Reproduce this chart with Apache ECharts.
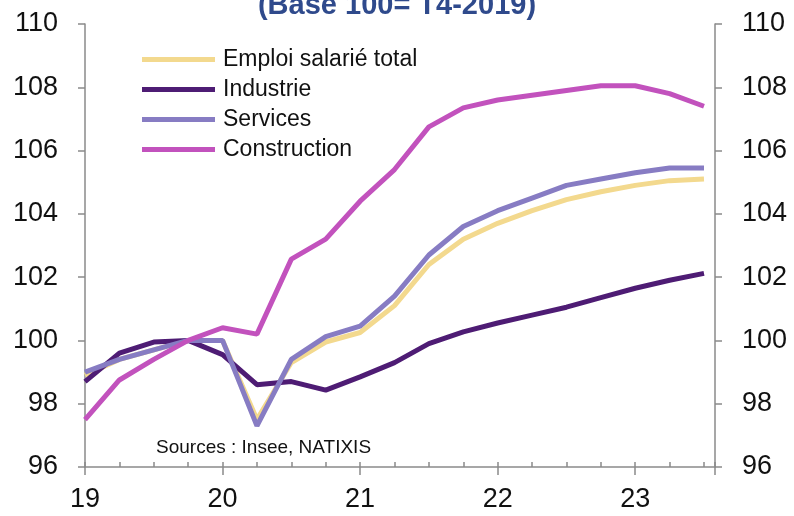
<!DOCTYPE html>
<html>
<head>
<meta charset="utf-8">
<script src="https://cdn.jsdelivr.net/npm/echarts@6/dist/echarts.min.js"></script>
<style>html,body{margin:0;padding:0;background:#fff}#c{width:794px;height:516px}</style>
</head>
<body>
<div id="c"></div>
<script>
// Quarterly dates (year fraction, 19 = 2019 Q1)
var quarters = [19, 19.25, 19.5, 19.75, 20, 20.25, 20.5, 20.75, 21, 21.25, 21.5, 21.75, 22, 22.25, 22.5, 22.75, 23, 23.25, 23.5];
var seriesNames = ['Emploi salarié total', 'Industrie', 'Services', 'Construction'];
var emploiTotal = [98.9, 99.4, 99.7, 100.0, 100.0, 97.5, 99.3, 99.95, 100.25, 101.1, 102.4, 103.2, 103.7, 104.1, 104.45, 104.7, 104.9, 105.05, 105.1];
var industrie = [98.7, 99.6, 99.95, 100.0, 99.55, 98.6, 98.7, 98.43, 98.85, 99.3, 99.9, 100.27, 100.55, 100.8, 101.05, 101.35, 101.65, 101.9, 102.12];
var services = [99.0, 99.4, 99.7, 100.0, 100.0, 97.3, 99.4, 100.12, 100.45, 101.4, 102.7, 103.6, 104.1, 104.5, 104.9, 105.1, 105.3, 105.45, 105.45];
var construction = [97.5, 98.75, 99.4, 100.0, 100.4, 100.2, 102.57, 103.2, 104.4, 105.4, 106.75, 107.35, 107.6, 107.75, 107.9, 108.05, 108.05, 107.8, 107.4];
var yTicks = [96, 98, 100, 102, 104, 106, 108, 110];
var xYearLabels = [19, 20, 21, 22, 23];
var titleText = '(Base 100= T4-2019)';
var sourceText = 'Sources : Insee, NATIXIS';

var colors = ['#F3D98E', '#4E1C74', '#877CC3', '#C252BD'];
var allValues = [emploiTotal, industrie, services, construction];

function pairs(vals) { return quarters.map(function (q, i) { return [q, vals[i]]; }); }

var chart = echarts.init(document.getElementById('c'), null, { renderer: 'canvas' });
var font = 'Liberation Sans, Arial, sans-serif';
var axisGray = '#8a8a8a';

var option = {
  backgroundColor: '#ffffff',
  animation: false,
  textStyle: { fontFamily: font },
  grid: { left: 85, right: 79, top: 24, bottom: 49 },
  graphic: [
    { type: 'text', left: 'center', top: -9, style: { text: titleText, font: 'bold 29px ' + font, fill: '#2F4A8C' } },
    { type: 'text', left: 156, top: 438, style: { text: sourceText, font: '19px ' + font, fill: '#111' } }
  ],
  legend: {
    orient: 'vertical', left: 137, top: 43,
    icon: 'rect', itemWidth: 73, itemHeight: 5, itemGap: 7,
    textStyle: { fontSize: 23, color: '#111', fontFamily: font, lineHeight: 22, padding: [0, 0, 0, 3] },
    data: seriesNames
  },
  xAxis: [
    {
      type: 'value', min: xYearLabels[0], max: 23.58, interval: 1,
      axisLine: { lineStyle: { color: axisGray, width: 1.5 } },
      axisTick: { show: true, length: 8, lineStyle: { color: axisGray, width: 1.5 } },
      splitLine: { show: false },
      axisLabel: { fontSize: 27, color: '#111', margin: 19, fontFamily: font,
        formatter: function (v) { return xYearLabels.indexOf(v) >= 0 ? String(v) : ''; } }
    },
    {
      type: 'value', min: xYearLabels[0], max: 23.58, interval: 0.25, position: 'bottom',
      axisLine: { show: false },
      axisTick: { show: true, inside: true, length: 5, lineStyle: { color: axisGray, width: 1.5 } },
      axisLabel: { show: false }, splitLine: { show: false }
    }
  ],
  yAxis: [
    {
      type: 'value', min: yTicks[0], max: yTicks[yTicks.length - 1], interval: 2, position: 'left',
      axisLine: { show: true, lineStyle: { color: axisGray, width: 1.5 } },
      axisTick: { show: true, length: 7, lineStyle: { color: axisGray, width: 1.5 } },
      splitLine: { show: false },
      axisLabel: { fontSize: 27, color: '#111', margin: 27, fontFamily: font }
    },
    {
      type: 'value', min: yTicks[0], max: yTicks[yTicks.length - 1], interval: 2, position: 'right',
      axisLine: { show: true, lineStyle: { color: axisGray, width: 1.5 } },
      axisTick: { show: true, length: 7, lineStyle: { color: axisGray, width: 1.5 } },
      splitLine: { show: false },
      axisLabel: { fontSize: 27, color: '#111', margin: 27, fontFamily: font }
    }
  ],
  series: seriesNames.map(function (n, i) {
    return {
      name: n, type: 'line', xAxisIndex: 0, yAxisIndex: 0,
      data: pairs(allValues[i]), showSymbol: false, symbol: 'none',
      color: colors[i],
      lineStyle: { color: colors[i], width: 5 },
      z: 2 + i
    };
  })
};
chart.setOption(option);
</script>
</body>
</html>
